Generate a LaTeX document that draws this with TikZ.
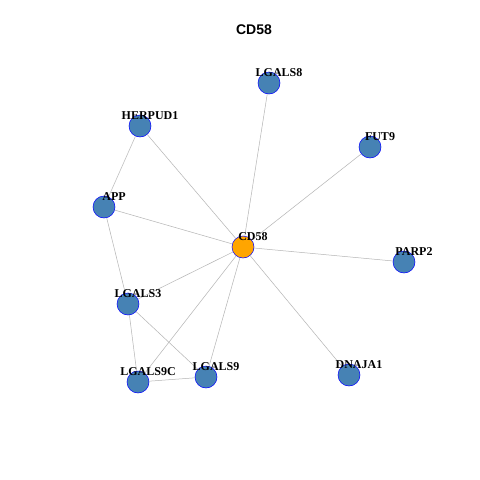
\documentclass[tikz,border=0pt]{standalone}
\usepackage{fontspec}
\setmainfont{Liberation Serif}
\newfontfamily\titlefont{Liberation Sans}
\definecolor{steel}{RGB}{70,130,180}
\definecolor{edgegray}{RGB}{180,180,180}
\definecolor{orng}{RGB}{255,165,0}
\begin{document}
\begin{tikzpicture}[x=1pt,y=-1pt,
  vert/.style={circle,draw=blue,line width=0.5pt,fill=steel,minimum size=22pt,inner sep=0pt},
  hub/.style={vert,fill=orng},
  lab/.style={font=\fontsize{12}{12}\selectfont\bfseries,inner sep=0pt},
  edge/.style={draw=edgegray,line width=0.5pt}]
\useasboundingbox (0,0) rectangle (480,480);
\fill[white] (0,0) rectangle (480,480);
\node[font=\titlefont\fontsize{14}{14}\selectfont\bfseries] (title) at (254,30) {CD58};
\node[hub] (CD58) at (243,247) {};
\node[vert] (LGALS8) at (269,83) {};
\node[vert] (HERPUD1) at (140,126) {};
\node[vert] (FUT9) at (370,147) {};
\node[vert] (APP) at (104,207) {};
\node[vert] (PARP2) at (404,262) {};
\node[vert] (LGALS3) at (128,304) {};
\node[vert] (DNAJA1) at (349,375) {};
\node[vert] (LGALS9C) at (138,382) {};
\node[vert] (LGALS9) at (206,377) {};
\begin{scope}[on background layer/.style={}]
\end{scope}
\begin{pgfinterruptboundingbox}\end{pgfinterruptboundingbox}
\foreach \a/\b in {CD58/LGALS8,CD58/FUT9,CD58/PARP2,CD58/DNAJA1,CD58/LGALS9,CD58/LGALS9C,CD58/LGALS3,CD58/APP,CD58/HERPUD1,HERPUD1/APP,APP/LGALS3,LGALS3/LGALS9C,LGALS3/LGALS9,LGALS9C/LGALS9}
  \draw[edge] (\a) -- (\b);
\foreach \n in {CD58,LGALS8,HERPUD1,FUT9,APP,PARP2,LGALS3,DNAJA1,LGALS9C,LGALS9}
  \node[lab] (\n-l) at ([xshift=10pt,yshift=10pt]\n.center) {\n};
\end{tikzpicture}
\end{document}
